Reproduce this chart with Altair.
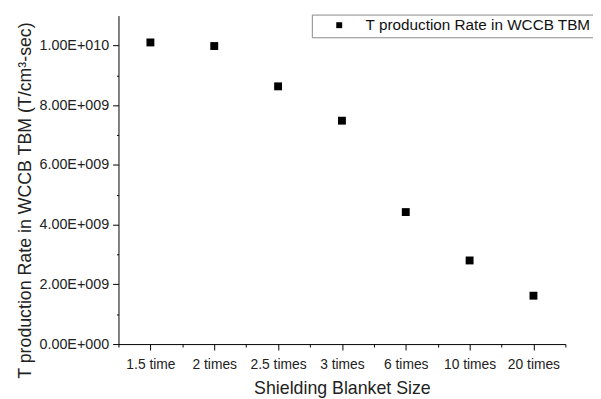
import altair as alt
import pandas as pd

categories = ['1.5 time', '2 times', '2.5 times', '3 times', '6 times', '10 times', '20 times']
values = [1.01e10, 9.98e9, 8.63e9, 7.48e9, 4.42e9, 2.80e9, 1.62e9]
series_name = 'T production Rate in WCCB TBM'
y_ticks = [i * 1e9 for i in range(0, 11)]
x_ticks = [0.5 + 0.5 * i for i in range(15)]

df = pd.DataFrame({
    'idx': list(range(1, len(categories) + 1)),
    'size': categories,
    'rate': values,
    'series': [series_name] * len(categories),
})

FONT = 'Liberation Sans'
cat_js = '[' + ','.join("'" + c + "'" for c in categories) + ']'

x_axis = alt.Axis(
    values=x_ticks,
    labelExpr=f"datum.value % 1 === 0 ? {cat_js}[datum.value - 1] : ''",
    grid=False,
    tickSize={"condition": {"test": "datum.value % 1 !== 0", "value": 3}, "value": 6},
    labelFont=FONT, labelFontSize=14, labelColor='#222', labelPadding=8,
    title='Shielding Blanket Size', titleFont=FONT, titleFontSize=18,
    titleFontWeight='normal', titleColor='#222', titlePadding=8,
    domainColor='black', tickColor='black', labelFlush=False, labelOverlap=False,
)

y_axis = alt.Axis(
    values=y_ticks,
    labelExpr="datum.value === 0 ? '0.00E+000' : (datum.value >= 1e10 ? format(datum.value/1e10, '.2f') + 'E+010' : (datum.value % 2e9 === 0 ? format(datum.value/1e9, '.2f') + 'E+009' : ''))",
    grid=False,
    tickSize={"condition": {"test": "datum.value % 2000000000 !== 0", "value": 2}, "value": 6},
    labelFont=FONT, labelFontSize=14.5, labelColor='#222', labelPadding=4,
    title='T production Rate in WCCB TBM (T/cm³-sec)', titleFont=FONT, titleFontSize=18,
    titleFontWeight='normal', titleColor='#222', titlePadding=5, titleY=187,
    domainColor='black', tickColor='black', labelFlush=False, labelOverlap=False,
)

chart = alt.Chart(df).mark_square(size=64, opacity=1, filled=True).encode(
    x=alt.X('idx:Q', scale=alt.Scale(domain=[0.5, 7.5], nice=False, zero=False), axis=x_axis),
    y=alt.Y('rate:Q', scale=alt.Scale(domain=[0, 1.1e10], nice=False), axis=y_axis),
    color=alt.Color('series:N', scale=alt.Scale(range=['black']), legend=alt.Legend(
        title=None, orient='none', legendX=196, legendY=-1,
        strokeColor='#888', fillColor='white', padding=3,
        symbolType='square', symbolSize=36, symbolOffset=17, labelOffset=19,
        labelFont=FONT, labelFontSize=15.5, labelColor='#111', labelLimit=0,
    )),
    tooltip=['size:N', 'rate:Q'],
).properties(
    width=453, height=333,
    autosize=alt.AutoSizeParams(type='none'),
    padding={'left': 112, 'top': 5, 'right': 28, 'bottom': 53},
).configure_view(stroke=None)

chart.save('out.html', embed_options={'renderer': 'svg', 'actions': False})
